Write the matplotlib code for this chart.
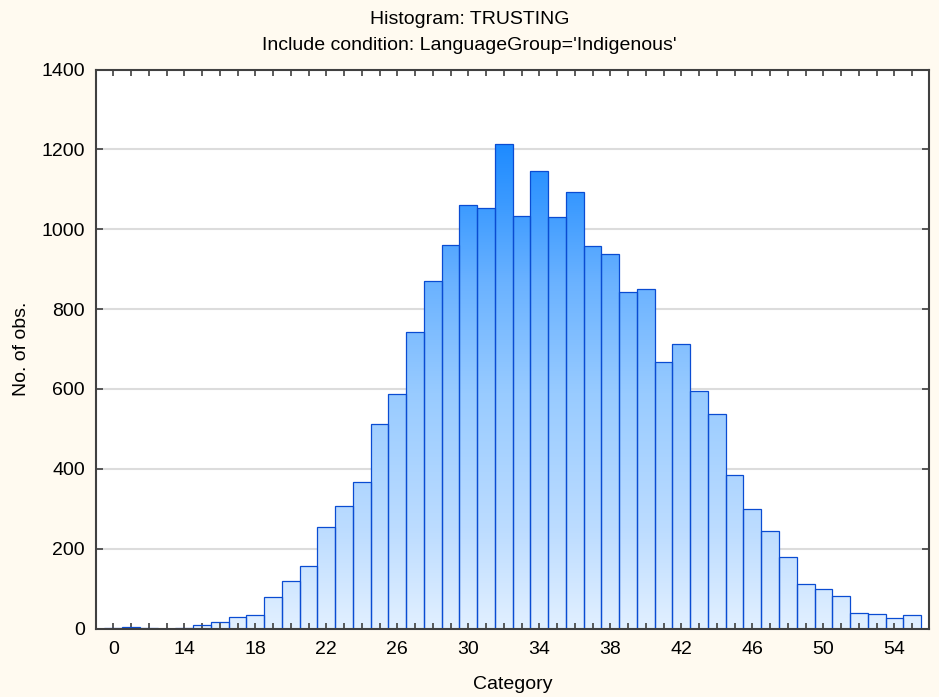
import matplotlib
matplotlib.use("Agg")
import matplotlib.pyplot as plt
import numpy as np
from matplotlib.path import Path
from matplotlib.patches import PathPatch
from matplotlib.colors import LinearSegmentedColormap

plt.rcParams['font.family'] = ['Liberation Sans', 'DejaVu Sans']

categories = ['0', '11', '12', '13', '14', '15', '16', '17', '18', '19', '20', '21',
              '22', '23', '24', '25', '26', '27', '28', '29', '30', '31', '32', '33',
              '34', '35', '36', '37', '38', '39', '40', '41', '42', '43', '44', '45',
              '46', '47', '48', '49', '50', '51', '52', '53', '54', '55']
counts = [1, 3, 2, 0, 2, 10, 17, 28, 33, 80, 120, 156,
          253, 308, 366, 512, 588, 743, 871, 961, 1060, 1054, 1214, 1033,
          1145, 1031, 1092, 958, 937, 842, 851, 667, 712, 596, 538, 384,
          300, 243, 178, 112, 98, 82, 40, 36, 27, 34]
title_lines = ["Histogram: TRUSTING", "Include condition: LanguageGroup='Indigenous'"]
x_label = "Category"
y_label = "No. of obs."
y_ticks = [0, 200, 400, 600, 800, 1000, 1200, 1400]

W, H = 939, 697
fig = plt.figure(figsize=(W / 100, H / 100), dpi=100, facecolor='#fffaf0')
ax = fig.add_axes([96 / W, 1 - 628.5 / H, (929 - 96) / W, (628.5 - 69.5) / H])
ax.set_facecolor('white')

x = np.arange(len(categories))
ax.set_xlim(-0.975, 45.95)
ax.set_ylim(0, 1400)

# gridlines
for yt in y_ticks[1:-1]:
    ax.axhline(yt, color='#dcdcdc', lw=1.5, zorder=0.5)

# gradient fill clipped to bars
verts, codes = [], []
for xi, c in zip(x, counts):
    if c <= 0:
        continue
    x0, x1 = xi - 0.5, xi + 0.5
    verts += [(x0, 0), (x1, 0), (x1, c), (x0, c), (x0, 0)]
    codes += [Path.MOVETO, Path.LINETO, Path.LINETO, Path.LINETO, Path.CLOSEPOLY]
clip = PathPatch(Path(verts, codes), transform=ax.transData, facecolor='none', edgecolor='none')
ax.add_patch(clip)
cmap = LinearSegmentedColormap.from_list('g', [
    (0.0, '#e2f0ff'), (250 / 1400, '#bcdcff'), (590 / 1400, '#98cbff'),
    (870 / 1400, '#6ab2ff'), (1060 / 1400, '#3d9bff'), (1215 / 1400, '#1e8bff'),
    (1.0, '#1080ff')])
grad = np.linspace(0, 1, 512).reshape(-1, 1)
im = ax.imshow(grad, origin='lower', aspect='auto', cmap=cmap,
               extent=[-0.975, 45.95, 0, 1400], zorder=1, interpolation='bilinear')
im.set_clip_path(clip)

ax.bar(x, counts, width=1.0, facecolor='none', edgecolor='#0a4cd2', linewidth=0.9, zorder=2)

# ticks
ax.set_xticks(x)
ax.set_xticklabels([c if i % 4 == 0 else '' for i, c in enumerate(categories)])
ax.set_yticks(y_ticks)
ax.tick_params(axis='both', direction='in', top=True, right=True, color='#404040',
               labelsize=14, width=1.2)
ax.tick_params(axis='x', length=4, pad=9)
ax.tick_params(axis='y', length=5, pad=8)
for s in ax.spines.values():
    s.set_color('#404040')
    s.set_linewidth(1.5)
    s.set_zorder(3)

ax.set_xlabel(x_label, fontsize=14, labelpad=13)
ax.set_ylabel(y_label, fontsize=14, labelpad=8)

fig.text(0.5, 1 - 19 / H, title_lines[0], ha='center', va='center', fontsize=14)
fig.text(0.5, 1 - 45 / H, title_lines[1], ha='center', va='center', fontsize=14)

fig.savefig('out.png', dpi=100, facecolor=fig.get_facecolor())
